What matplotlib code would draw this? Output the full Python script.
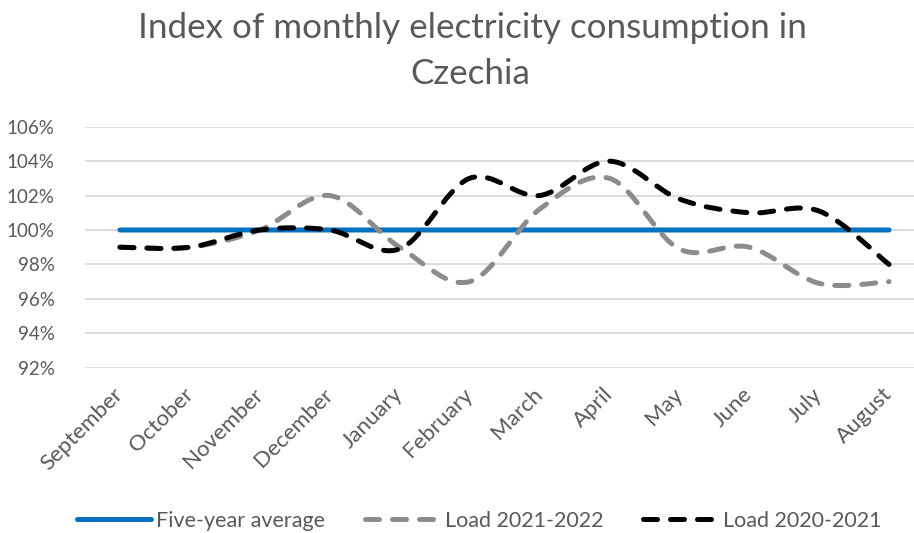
import numpy as np
import matplotlib
matplotlib.use("Agg")
import matplotlib.pyplot as plt
from matplotlib.path import Path
from matplotlib.patches import PathPatch
from matplotlib.lines import Line2D
from matplotlib.ticker import PercentFormatter

plt.rcParams['font.family'] = ['Lato', 'DejaVu Sans']

months = ["September", "October", "November", "December", "January", "February",
          "March", "April", "May", "June", "July", "August"]
five_year = [1.00] * 12
load_2122 = [0.99, 0.99, 1.00, 1.02, 0.99, 0.97, 1.012, 1.03, 0.989, 0.99, 0.969, 0.97]
load_2021 = [0.99, 0.99, 1.00, 1.00, 0.989, 1.03, 1.02, 1.04, 1.018, 1.01, 1.011, 0.98]

TEXT = '#595959'
GRID = '#D9D9D9'


def smooth_path(xs, ys):
    # Bezier segments through every point, like a spreadsheet "smoothed line"
    pts = np.column_stack([xs, ys]).astype(float)
    n = len(pts)
    verts = [pts[0]]
    codes = [Path.MOVETO]
    for i in range(n - 1):
        p0 = pts[i - 1] if i > 0 else pts[i]
        p1 = pts[i]
        p2 = pts[i + 1]
        p3 = pts[i + 2] if i + 2 < n else pts[i + 1]
        c1 = p1 + (p2 - p0) / 6.0
        c2 = p2 - (p3 - p1) / 6.0
        verts += [c1, c2, p2]
        codes += [Path.CURVE4] * 3
    return Path(verts, codes)


fig = plt.figure(figsize=(9.14, 5.33), dpi=100)
ax = fig.add_axes([85 / 914, 1 - 367.7 / 533, 839 / 914, 241 / 533])

x = np.arange(len(months))
series = [
    (five_year, '#0070C0', '-', "Five-year average"),
    (load_2122, '#8C8C8C', (0, (2.8, 2.6)), "Load 2021-2022"),
    (load_2021, '#000000', (0, (2.8, 2.6)), "Load 2020-2021"),
]
handles = []
for vals, col, ls, lab in series:
    patch = PathPatch(smooth_path(x, vals), fill=False, edgecolor=col, lw=3.6,
                      linestyle=ls, capstyle='round', joinstyle='round', zorder=3)
    ax.add_patch(patch)
    handles.append(Line2D([], [], color=col, lw=3.6, linestyle=ls,
                          dash_capstyle='round', solid_capstyle='round'))

ax.set_xlim(-0.5, 11.5)
ax.set_ylim(0.92, 1.06)
ax.set_yticks(np.arange(0.92, 1.061, 0.02))
ax.yaxis.set_major_formatter(PercentFormatter(1.0, decimals=0))
ax.grid(axis='y', color=GRID, lw=1.3)
ax.set_axisbelow(True)
for s in ax.spines.values():
    s.set_visible(False)
ax.tick_params(axis='both', length=0, labelcolor=TEXT)
ax.tick_params(axis='y', pad=22, labelsize=13.5)
ax.set_xticks(x)
ax.set_xticklabels(months, rotation=45, ha='right', va='center',
                   rotation_mode='anchor')
ax.tick_params(axis='x', pad=17, labelsize=16)

# two-line title, each line placed on its own baseline
fig.text(0.517, 1 - 38 / 533, "Index of monthly electricity consumption in",
         ha='center', va='baseline', fontsize=25.2, color=TEXT)
fig.text(0.515, 1 - 84 / 533, "Czechia",
         ha='center', va='baseline', fontsize=25.2, color=TEXT)

fig.legend(handles, [s[3] for s in series], loc='center', ncol=3,
           bbox_to_anchor=(0.524, 0.023), frameon=False, fontsize=15.5,
           labelcolor=TEXT, handlelength=3.45, columnspacing=1.85, handletextpad=0.25)

fig.savefig("out.png", dpi=100)
